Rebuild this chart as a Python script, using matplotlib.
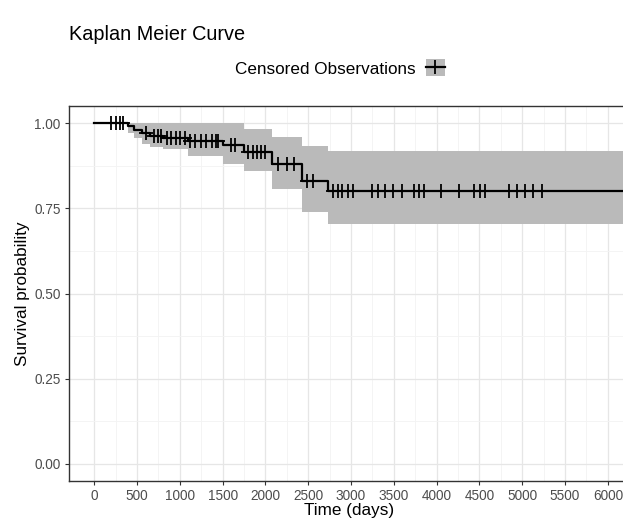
import numpy as np
import matplotlib.pyplot as plt
from matplotlib.lines import Line2D
from matplotlib.patches import Patch
from matplotlib.legend_handler import HandlerTuple

plt.rcParams['font.family'] = ['Liberation Sans', 'DejaVu Sans']

# Kaplan-Meier steps (days, survival) and confidence band
step_t = [0, 400, 470, 560, 650, 800, 1100, 1500, 1750, 2080, 2430, 2730, 6190]
step_s = [1.0, 0.99, 0.98, 0.97, 0.962, 0.955, 0.948, 0.935, 0.915, 0.879, 0.83, 0.80, 0.80]
upper = [1.0, 1.0, 1.0, 1.0, 1.0, 1.0, 1.0, 1.0, 0.982, 0.96, 0.932, 0.918, 0.918]
lower = [1.0, 0.97, 0.955, 0.94, 0.93, 0.924, 0.903, 0.88, 0.86, 0.806, 0.738, 0.703, 0.703]

censor_t = [190, 250, 300, 340, 600, 700, 750, 780, 850, 900, 950, 1000, 1060,
            1120, 1180, 1250, 1300, 1370, 1420, 1450, 1600, 1650, 1800, 1850,
            1900, 1950, 2000, 2150, 2250, 2330, 2480, 2560, 2790, 2850, 2900,
            2960, 3020, 3240, 3320, 3400, 3490, 3590, 3730, 3790, 3850, 4050,
            4260, 4440, 4510, 4570, 4850, 4935, 5030, 5125, 5230, 6190]

# survival value at each censor time from the step curve
idx = np.searchsorted(step_t, censor_t, side='right') - 1
censor_s = np.array(step_s)[idx]

band_col = '#bababa'

fig = plt.figure(figsize=(6.23, 5.25), dpi=100)
ax = fig.add_axes([69/623, 1 - 481/525, 1 - 69/623 + 0.01, (481 - 106)/525])

ax.fill_between(step_t, lower, upper, step='post', color=band_col, lw=0, zorder=1)
ax.step(step_t, step_s, where='post', color='black', lw=1.6, zorder=3)
ax.plot(censor_t, censor_s, ls='none', marker='+', color='black',
        markersize=10, markeredgewidth=1.3, zorder=4)

ax.set_xlim(-295, 6250)
ax.set_ylim(-0.05, 1.05)
ax.set_xticks(np.arange(0, 6001, 500))
ax.set_xticks(np.arange(250, 6251, 500), minor=True)
ax.set_yticks([0, 0.25, 0.5, 0.75, 1.0])
ax.set_yticklabels(['0.00', '0.25', '0.50', '0.75', '1.00'])
ax.set_yticks([0.125, 0.375, 0.625, 0.875], minor=True)
ax.grid(which='major', color='#e6e6e6', lw=0.9, zorder=0)
ax.grid(which='minor', color='#f3f3f3', lw=0.6, zorder=0)
ax.set_axisbelow(True)
ax.tick_params(which='major', length=3, color='#333333', labelcolor='#4d4d4d', labelsize=9.8, pad=3)
ax.tick_params(which='minor', length=0)
for side in ['left', 'bottom', 'top']:
    ax.spines[side].set_color('#333333')
    ax.spines[side].set_linewidth(1.0)
ax.spines['right'].set_visible(False)

ax.set_xlabel('Time (days)', fontsize=12.3, labelpad=0)
ax.set_ylabel('Survival probability', fontsize=12.3, labelpad=3)

fig.text(69/623, 1 - 35/525, 'Kaplan Meier Curve', fontsize=14.3, va='center')

handle = (Patch(facecolor=band_col, edgecolor='none'),
          Line2D([], [], color='black', marker='+', lw=1.6, markersize=10, markeredgewidth=1.3))
fig.legend([handle], ['Censored Observations'], loc='center', bbox_to_anchor=(340/623, 1 - 68/525),
           frameon=False, fontsize=12.3, markerfirst=False, handlelength=1.1, handleheight=1.1,
           handletextpad=0.6,
           handler_map={tuple: HandlerTuple(ndivide=1, pad=0)})

fig.savefig('out.png', dpi=100)
